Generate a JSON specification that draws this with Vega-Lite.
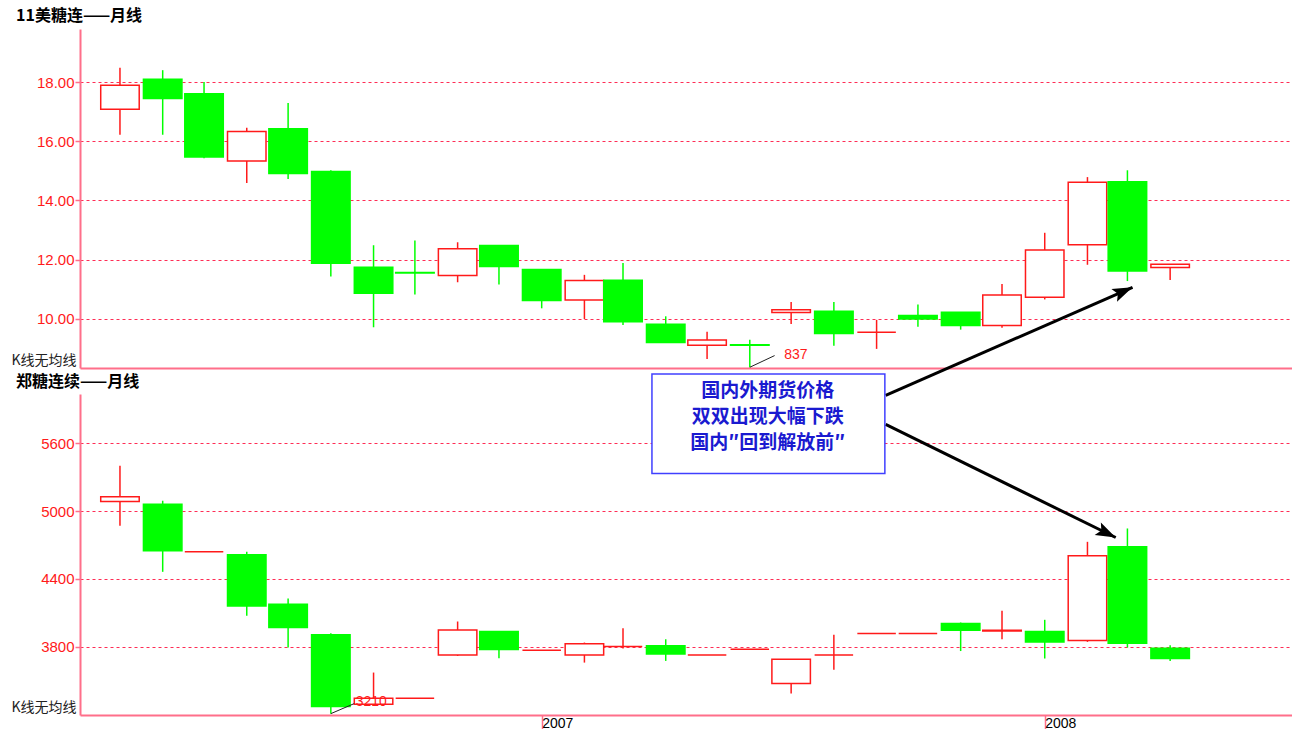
{
  "$schema": "https://vega.github.io/schema/vega-lite/v6.json",
  "background": "white",
  "padding": {"left": 10, "top": 8, "right": 0, "bottom": 0},
  "bounds": "flush",
  "spacing": 26,
  "config": {
    "view": {"stroke": null},
    "font": "Noto Sans CJK SC",
    "axis": {"domainColor": "#FF6F8A", "domainWidth": 2, "tickColor": "#FF6F8A", "tickWidth": 1.5, "gridColor": "#FF2D55", "gridDash": [3, 3], "gridWidth": 1, "gridOpacity": 1, "labelFont": "Liberation Sans", "labelFontSize": 15, "titleFont": "Noto Sans CJK SC", "titleFontWeight": "normal", "titleFontSize": 14, "titleColor": "#222222"},
    "axisY": {"gridColor": "#FF2D55", "gridOpacity": 1, "gridDash": [3, 3]},
    "title": {"font": "Noto Sans CJK SC", "fontSize": 16, "fontWeight": "bold", "color": "#000000", "anchor": "start", "frame": "group"}
  },
  "datasets": {
    "ice": [
      {"m": "2006-03-01", "o": 17.08, "h": 18.48, "l": 16.22, "c": 17.89},
      {"m": "2006-04-01", "o": 18.09, "h": 18.40, "l": 16.22, "c": 17.44},
      {"m": "2006-05-01", "o": 17.60, "h": 18.00, "l": 15.43, "c": 15.47},
      {"m": "2006-06-01", "o": 15.33, "h": 16.46, "l": 14.59, "c": 16.33},
      {"m": "2006-07-01", "o": 16.42, "h": 17.29, "l": 14.73, "c": 14.91},
      {"m": "2006-08-01", "o": 14.98, "h": 15.02, "l": 11.43, "c": 11.88},
      {"m": "2006-09-01", "o": 11.75, "h": 12.49, "l": 9.72, "c": 10.87},
      {"m": "2006-10-01", "o": 11.57, "h": 12.65, "l": 10.83, "c": 11.55},
      {"m": "2006-11-01", "o": 11.47, "h": 12.59, "l": 11.24, "c": 12.37},
      {"m": "2006-12-01", "o": 12.48, "h": 12.49, "l": 11.16, "c": 11.77},
      {"m": "2007-01-01", "o": 11.67, "h": 11.68, "l": 10.36, "c": 10.62},
      {"m": "2007-02-01", "o": 10.64, "h": 11.49, "l": 10.00, "c": 11.30},
      {"m": "2007-03-01", "o": 11.31, "h": 11.89, "l": 9.80, "c": 9.91},
      {"m": "2007-04-01", "o": 9.82, "h": 10.09, "l": 9.20, "c": 9.21},
      {"m": "2007-05-01", "o": 9.11, "h": 9.57, "l": 8.65, "c": 9.29},
      {"m": "2007-06-01", "o": 9.13, "h": 9.30, "l": 8.37, "c": 9.11},
      {"m": "2007-07-01", "o": 10.22, "h": 10.57, "l": 9.83, "c": 10.31},
      {"m": "2007-08-01", "o": 10.26, "h": 10.57, "l": 9.10, "c": 9.51},
      {"m": "2007-09-01", "o": 9.55, "h": 9.97, "l": 8.99, "c": 9.55},
      {"m": "2007-10-01", "o": 10.12, "h": 10.49, "l": 9.74, "c": 10.00},
      {"m": "2007-11-01", "o": 10.23, "h": 10.23, "l": 9.64, "c": 9.78},
      {"m": "2007-12-01", "o": 9.78, "h": 11.18, "l": 9.70, "c": 10.81},
      {"m": "2008-01-01", "o": 10.73, "h": 12.91, "l": 10.66, "c": 12.33},
      {"m": "2008-02-01", "o": 12.51, "h": 14.79, "l": 11.83, "c": 14.62},
      {"m": "2008-03-01", "o": 14.63, "h": 15.02, "l": 11.28, "c": 11.62},
      {"m": "2008-04-01", "o": 11.74, "h": 11.85, "l": 11.32, "c": 11.85}
    ],
    "zce": [
      {"m": "2006-03-01", "o": 5085, "h": 5400, "l": 4870, "c": 5126},
      {"m": "2006-04-01", "o": 5061, "h": 5091, "l": 4463, "c": 4649},
      {"m": "2006-05-01", "o": 4640, "h": 4640, "l": 4640, "c": 4640},
      {"m": "2006-06-01", "o": 4613, "h": 4640, "l": 4074, "c": 4162},
      {"m": "2006-07-01", "o": 4177, "h": 4227, "l": 3794, "c": 3971},
      {"m": "2006-08-01", "o": 3906, "h": 3920, "l": 3210, "c": 3272},
      {"m": "2006-09-01", "o": 3293, "h": 3573, "l": 3293, "c": 3346},
      {"m": "2006-10-01", "o": 3346, "h": 3346, "l": 3346, "c": 3346},
      {"m": "2006-11-01", "o": 3729, "h": 4024, "l": 3720, "c": 3950},
      {"m": "2006-12-01", "o": 3935, "h": 3935, "l": 3699, "c": 3776},
      {"m": "2007-01-01", "o": 3770, "h": 3770, "l": 3770, "c": 3770},
      {"m": "2007-02-01", "o": 3729, "h": 3838, "l": 3661, "c": 3827},
      {"m": "2007-03-01", "o": 3803, "h": 3964, "l": 3785, "c": 3803},
      {"m": "2007-04-01", "o": 3809, "h": 3867, "l": 3676, "c": 3738},
      {"m": "2007-05-01", "o": 3729, "h": 3729, "l": 3729, "c": 3729},
      {"m": "2007-06-01", "o": 3779, "h": 3779, "l": 3779, "c": 3779},
      {"m": "2007-07-01", "o": 3476, "h": 3690, "l": 3387, "c": 3690},
      {"m": "2007-08-01", "o": 3729, "h": 3906, "l": 3597, "c": 3729},
      {"m": "2007-09-01", "o": 3918, "h": 3918, "l": 3918, "c": 3918},
      {"m": "2007-10-01", "o": 3918, "h": 3918, "l": 3918, "c": 3918},
      {"m": "2007-11-01", "o": 4006, "h": 4015, "l": 3763, "c": 3947},
      {"m": "2007-12-01", "o": 3940, "h": 4118, "l": 3867, "c": 3947},
      {"m": "2008-01-01", "o": 3935, "h": 4039, "l": 3697, "c": 3844},
      {"m": "2008-02-01", "o": 3856, "h": 4728, "l": 3844, "c": 4605},
      {"m": "2008-03-01", "o": 4684, "h": 4846, "l": 3794, "c": 3832},
      {"m": "2008-04-01", "o": 3788, "h": 3814, "l": 3676, "c": 3697}
    ]
  },
  "vconcat": [
    {
      "width": 1212,
      "height": 339,
      "title": {"text": "11美糖连——月线", "dx": -64, "offset": 5},
      "layer": [
        {
          "data": {"name": "ice"},
          "mark": {"type": "rule", "strokeWidth": 1.5},
          "encoding": {
            "x": {"field": "m", "type": "temporal", "scale": {"type": "utc", "padding": 0, "domain": [{"year": 2006, "month": 1, "date": 31, "utc": true}, {"year": 2008, "month": 6, "date": 28, "hours": 10, "utc": true}]}, "axis": {"labels": false, "ticks": false, "grid": false, "title": null}},
            "y": {"field": "l", "type": "quantitative", "scale": {"domain": [8.345, 19.79], "nice": false, "zero": false, "padding": 0}, "axis": {"values": [10, 12, 14, 16, 18], "format": ".2f", "labelColor": "#FF1A1A", "labelPadding": 1, "tickSize": 5, "grid": true, "title": "K线无均线", "titleAngle": 0, "titleAlign": "right", "titleBaseline": "alphabetic", "titleX": -4, "titleY": 335}},
            "y2": {"field": "h"},
            "color": {"condition": {"test": "datum.c < datum.o", "value": "#00FF00"}, "value": "#FF1A1A"}
          }
        },
        {
          "data": {"name": "ice"},
          "mark": {"type": "bar", "size": 38.5, "strokeWidth": 1.5},
          "encoding": {
            "x": {"field": "m", "type": "temporal", "scale": {"type": "utc", "padding": 0, "domain": [{"year": 2006, "month": 1, "date": 31, "utc": true}, {"year": 2008, "month": 6, "date": 28, "hours": 10, "utc": true}]}, "axis": {"labels": false, "ticks": false, "grid": false, "title": null}},
            "y": {"field": "o", "type": "quantitative", "scale": {"domain": [8.345, 19.79], "nice": false, "zero": false, "padding": 0}, "axis": {"values": [10, 12, 14, 16, 18], "format": ".2f", "labelColor": "#FF1A1A", "labelPadding": 1, "tickSize": 5, "grid": true, "title": "K线无均线", "titleAngle": 0, "titleAlign": "right", "titleBaseline": "alphabetic", "titleX": -4, "titleY": 335}},
            "y2": {"field": "c"},
            "fill": {"condition": {"test": "datum.c < datum.o", "value": "#00FF00"}, "value": "#FFFFFF"},
            "stroke": {"condition": {"test": "datum.c < datum.o", "value": "#00FF00"}, "value": "#FF1A1A"}
          }
        },
        {
          "data": {"values": [{"fx": "2007-06-01", "fy": 8.37, "tx": "2007-06-19", "ty": 8.764}]},
          "mark": {"type": "rule", "strokeWidth": 1, "color": "#222222"},
          "encoding": {
            "x": {"field": "fx", "type": "temporal", "scale": {"type": "utc", "padding": 0, "domain": [{"year": 2006, "month": 1, "date": 31, "utc": true}, {"year": 2008, "month": 6, "date": 28, "hours": 10, "utc": true}]}, "axis": {"labels": false, "ticks": false, "grid": false, "title": null}},
            "x2": {"field": "tx"},
            "y": {"field": "fy", "type": "quantitative", "scale": {"domain": [8.345, 19.79], "nice": false, "zero": false, "padding": 0}, "axis": {"values": [10, 12, 14, 16, 18], "format": ".2f", "labelColor": "#FF1A1A", "labelPadding": 1, "tickSize": 5, "grid": true, "title": "K线无均线", "titleAngle": 0, "titleAlign": "right", "titleBaseline": "alphabetic", "titleX": -4, "titleY": 335}},
            "y2": {"field": "ty"}
          }
        },
        {
          "data": {"values": [{"d": "2007-06-26", "v": 8.77, "t": "837"}]},
          "mark": {"type": "text", "align": "left", "baseline": "middle", "font": "Liberation Sans", "fontSize": 14, "color": "#FF1A1A"},
          "encoding": {
            "x": {"field": "d", "type": "temporal", "scale": {"type": "utc", "padding": 0, "domain": [{"year": 2006, "month": 1, "date": 31, "utc": true}, {"year": 2008, "month": 6, "date": 28, "hours": 10, "utc": true}]}, "axis": {"labels": false, "ticks": false, "grid": false, "title": null}},
            "y": {"field": "v", "type": "quantitative", "scale": {"domain": [8.345, 19.79], "nice": false, "zero": false, "padding": 0}, "axis": {"values": [10, 12, 14, 16, 18], "format": ".2f", "labelColor": "#FF1A1A", "labelPadding": 1, "tickSize": 5, "grid": true, "title": "K线无均线", "titleAngle": 0, "titleAlign": "right", "titleBaseline": "alphabetic", "titleX": -4, "titleY": 335}},
            "text": {"field": "t"}
          }
        },
        {
          "data": {"values": [{"fx": "2007-09-07T14:00:00Z", "fy": 7.42, "tx": "2008-03-04T17:00:00Z", "ty": 11.07}]},
          "mark": {"type": "rule", "strokeWidth": 3, "color": "#000000"},
          "encoding": {
            "x": {"field": "fx", "type": "temporal", "scale": {"type": "utc", "padding": 0, "domain": [{"year": 2006, "month": 1, "date": 31, "utc": true}, {"year": 2008, "month": 6, "date": 28, "hours": 10, "utc": true}]}, "axis": {"labels": false, "ticks": false, "grid": false, "title": null}},
            "x2": {"field": "tx"},
            "y": {"field": "fy", "type": "quantitative", "scale": {"domain": [8.345, 19.79], "nice": false, "zero": false, "padding": 0}, "axis": {"values": [10, 12, 14, 16, 18], "format": ".2f", "labelColor": "#FF1A1A", "labelPadding": 1, "tickSize": 5, "grid": true, "title": "K线无均线", "titleAngle": 0, "titleAlign": "right", "titleBaseline": "alphabetic", "titleX": -4, "titleY": 335}},
            "y2": {"field": "ty"}
          }
        },
        {
          "data": {"values": [{"tx": "2008-03-04T17:00:00Z", "ty": 11.07}]},
          "mark": {"type": "point", "shape": "M0,0L0.7,2L0,1.6L-0.7,2Z", "size": 400, "filled": true, "opacity": 1, "color": "#000000", "angle": 66.4},
          "encoding": {
            "x": {"field": "tx", "type": "temporal", "scale": {"type": "utc", "padding": 0, "domain": [{"year": 2006, "month": 1, "date": 31, "utc": true}, {"year": 2008, "month": 6, "date": 28, "hours": 10, "utc": true}]}, "axis": {"labels": false, "ticks": false, "grid": false, "title": null}},
            "y": {"field": "ty", "type": "quantitative", "scale": {"domain": [8.345, 19.79], "nice": false, "zero": false, "padding": 0}, "axis": {"values": [10, 12, 14, 16, 18], "format": ".2f", "labelColor": "#FF1A1A", "labelPadding": 1, "tickSize": 5, "grid": true, "title": "K线无均线", "titleAngle": 0, "titleAlign": "right", "titleBaseline": "alphabetic", "titleX": -4, "titleY": 335}}
          }
        }
      ]
    },
    {
      "width": 1212,
      "height": 321,
      "title": {"text": "郑糖连续——月线", "dx": -64, "offset": 3, "dy": 20},
      "layer": [
        {
          "data": {"name": "zce"},
          "mark": {"type": "rule", "strokeWidth": 1.5},
          "encoding": {
            "x": {"field": "m", "type": "temporal", "scale": {"type": "utc", "padding": 0, "domain": [{"year": 2006, "month": 1, "date": 31, "utc": true}, {"year": 2008, "month": 6, "date": 28, "hours": 10, "utc": true}]}, "axis": {"values": [{"year": 2007, "month": 1, "date": 1, "utc": true}, {"year": 2008, "month": 1, "date": 1, "utc": true}], "format": "%Y", "labelAlign": "left", "labelBaseline": "top", "labelColor": "#000000", "labelFontSize": 14, "labelPadding": -15, "labelDx": 1, "tickSize": 16, "grid": false, "title": null, "labelFlush": false}},
            "y": {"field": "l", "type": "quantitative", "scale": {"domain": [3198, 6034], "nice": false, "zero": false, "padding": 0}, "axis": {"values": [3800, 4400, 5000, 5600], "format": "d", "labelColor": "#FF1A1A", "labelPadding": 1, "tickSize": 5, "grid": true, "title": "K线无均线", "titleAngle": 0, "titleAlign": "right", "titleBaseline": "alphabetic", "titleX": -4, "titleY": 317}},
            "y2": {"field": "h"},
            "color": {"condition": {"test": "datum.c < datum.o", "value": "#00FF00"}, "value": "#FF1A1A"}
          }
        },
        {
          "data": {"name": "zce"},
          "mark": {"type": "bar", "size": 38.5, "strokeWidth": 1.5},
          "encoding": {
            "x": {"field": "m", "type": "temporal", "scale": {"type": "utc", "padding": 0, "domain": [{"year": 2006, "month": 1, "date": 31, "utc": true}, {"year": 2008, "month": 6, "date": 28, "hours": 10, "utc": true}]}, "axis": {"values": [{"year": 2007, "month": 1, "date": 1, "utc": true}, {"year": 2008, "month": 1, "date": 1, "utc": true}], "format": "%Y", "labelAlign": "left", "labelBaseline": "top", "labelColor": "#000000", "labelFontSize": 14, "labelPadding": -15, "labelDx": 1, "tickSize": 16, "grid": false, "title": null, "labelFlush": false}},
            "y": {"field": "o", "type": "quantitative", "scale": {"domain": [3198, 6034], "nice": false, "zero": false, "padding": 0}, "axis": {"values": [3800, 4400, 5000, 5600], "format": "d", "labelColor": "#FF1A1A", "labelPadding": 1, "tickSize": 5, "grid": true, "title": "K线无均线", "titleAngle": 0, "titleAlign": "right", "titleBaseline": "alphabetic", "titleX": -4, "titleY": 317}},
            "y2": {"field": "c"},
            "fill": {"condition": {"test": "datum.c < datum.o", "value": "#00FF00"}, "value": "#FFFFFF"},
            "stroke": {"condition": {"test": "datum.c < datum.o", "value": "#00FF00"}, "value": "#FF1A1A"}
          }
        },
        {
          "data": {"values": [{"fx": "2006-08-01", "fy": 3210, "tx": "2006-08-18", "ty": 3299}]},
          "mark": {"type": "rule", "strokeWidth": 1, "color": "#222222"},
          "encoding": {
            "x": {"field": "fx", "type": "temporal", "scale": {"type": "utc", "padding": 0, "domain": [{"year": 2006, "month": 1, "date": 31, "utc": true}, {"year": 2008, "month": 6, "date": 28, "hours": 10, "utc": true}]}, "axis": {"values": [{"year": 2007, "month": 1, "date": 1, "utc": true}, {"year": 2008, "month": 1, "date": 1, "utc": true}], "format": "%Y", "labelAlign": "left", "labelBaseline": "top", "labelColor": "#000000", "labelFontSize": 14, "labelPadding": -15, "labelDx": 1, "tickSize": 16, "grid": false, "title": null, "labelFlush": false}},
            "x2": {"field": "tx"},
            "y": {"field": "fy", "type": "quantitative", "scale": {"domain": [3198, 6034], "nice": false, "zero": false, "padding": 0}, "axis": {"values": [3800, 4400, 5000, 5600], "format": "d", "labelColor": "#FF1A1A", "labelPadding": 1, "tickSize": 5, "grid": true, "title": "K线无均线", "titleAngle": 0, "titleAlign": "right", "titleBaseline": "alphabetic", "titleX": -4, "titleY": 317}},
            "y2": {"field": "ty"}
          }
        },
        {
          "data": {"values": [{"d": "2006-08-19", "v": 3316, "t": "3210"}]},
          "mark": {"type": "text", "align": "left", "baseline": "middle", "font": "Liberation Sans", "fontSize": 14, "color": "#FF1A1A"},
          "encoding": {
            "x": {"field": "d", "type": "temporal", "scale": {"type": "utc", "padding": 0, "domain": [{"year": 2006, "month": 1, "date": 31, "utc": true}, {"year": 2008, "month": 6, "date": 28, "hours": 10, "utc": true}]}, "axis": {"values": [{"year": 2007, "month": 1, "date": 1, "utc": true}, {"year": 2008, "month": 1, "date": 1, "utc": true}], "format": "%Y", "labelAlign": "left", "labelBaseline": "top", "labelColor": "#000000", "labelFontSize": 14, "labelPadding": -15, "labelDx": 1, "tickSize": 16, "grid": false, "title": null, "labelFlush": false}},
            "y": {"field": "v", "type": "quantitative", "scale": {"domain": [3198, 6034], "nice": false, "zero": false, "padding": 0}, "axis": {"values": [3800, 4400, 5000, 5600], "format": "d", "labelColor": "#FF1A1A", "labelPadding": 1, "tickSize": 5, "grid": true, "title": "K线无均线", "titleAngle": 0, "titleAlign": "right", "titleBaseline": "alphabetic", "titleX": -4, "titleY": 317}},
            "text": {"field": "t"}
          }
        },
        {
          "data": {"values": [{"fx": "2007-09-07T14:00:00Z", "fy": 5765, "tx": "2008-02-21T12:00:00Z", "ty": 4766}]},
          "mark": {"type": "rule", "strokeWidth": 3, "color": "#000000"},
          "encoding": {
            "x": {"field": "fx", "type": "temporal", "scale": {"type": "utc", "padding": 0, "domain": [{"year": 2006, "month": 1, "date": 31, "utc": true}, {"year": 2008, "month": 6, "date": 28, "hours": 10, "utc": true}]}, "axis": {"values": [{"year": 2007, "month": 1, "date": 1, "utc": true}, {"year": 2008, "month": 1, "date": 1, "utc": true}], "format": "%Y", "labelAlign": "left", "labelBaseline": "top", "labelColor": "#000000", "labelFontSize": 14, "labelPadding": -15, "labelDx": 1, "tickSize": 16, "grid": false, "title": null, "labelFlush": false}},
            "x2": {"field": "tx"},
            "y": {"field": "fy", "type": "quantitative", "scale": {"domain": [3198, 6034], "nice": false, "zero": false, "padding": 0}, "axis": {"values": [3800, 4400, 5000, 5600], "format": "d", "labelColor": "#FF1A1A", "labelPadding": 1, "tickSize": 5, "grid": true, "title": "K线无均线", "titleAngle": 0, "titleAlign": "right", "titleBaseline": "alphabetic", "titleX": -4, "titleY": 317}},
            "y2": {"field": "ty"}
          }
        },
        {
          "data": {"values": [{"tx": "2008-02-21T12:00:00Z", "ty": 4766}]},
          "mark": {"type": "point", "shape": "M0,0L0.7,2L0,1.6L-0.7,2Z", "size": 400, "filled": true, "opacity": 1, "color": "#000000", "angle": 116.2},
          "encoding": {
            "x": {"field": "tx", "type": "temporal", "scale": {"type": "utc", "padding": 0, "domain": [{"year": 2006, "month": 1, "date": 31, "utc": true}, {"year": 2008, "month": 6, "date": 28, "hours": 10, "utc": true}]}, "axis": {"values": [{"year": 2007, "month": 1, "date": 1, "utc": true}, {"year": 2008, "month": 1, "date": 1, "utc": true}], "format": "%Y", "labelAlign": "left", "labelBaseline": "top", "labelColor": "#000000", "labelFontSize": 14, "labelPadding": -15, "labelDx": 1, "tickSize": 16, "grid": false, "title": null, "labelFlush": false}},
            "y": {"field": "ty", "type": "quantitative", "scale": {"domain": [3198, 6034], "nice": false, "zero": false, "padding": 0}, "axis": {"values": [3800, 4400, 5000, 5600], "format": "d", "labelColor": "#FF1A1A", "labelPadding": 1, "tickSize": 5, "grid": true, "title": "K线无均线", "titleAngle": 0, "titleAlign": "right", "titleBaseline": "alphabetic", "titleX": -4, "titleY": 317}}
          }
        },
        {
          "data": {"values": [{"fx": "2007-03-22", "tx": "2007-09-07", "fy": 6210, "ty": 5332}]},
          "mark": {"type": "rect", "fill": "#FFFFFF", "stroke": "#4040FF", "strokeWidth": 1.5},
          "encoding": {
            "x": {"field": "fx", "type": "temporal", "scale": {"type": "utc", "padding": 0, "domain": [{"year": 2006, "month": 1, "date": 31, "utc": true}, {"year": 2008, "month": 6, "date": 28, "hours": 10, "utc": true}]}, "axis": {"values": [{"year": 2007, "month": 1, "date": 1, "utc": true}, {"year": 2008, "month": 1, "date": 1, "utc": true}], "format": "%Y", "labelAlign": "left", "labelBaseline": "top", "labelColor": "#000000", "labelFontSize": 14, "labelPadding": -15, "labelDx": 1, "tickSize": 16, "grid": false, "title": null, "labelFlush": false}},
            "x2": {"field": "tx"},
            "y": {"field": "fy", "type": "quantitative", "scale": {"domain": [3198, 6034], "nice": false, "zero": false, "padding": 0}, "axis": {"values": [3800, 4400, 5000, 5600], "format": "d", "labelColor": "#FF1A1A", "labelPadding": 1, "tickSize": 5, "grid": true, "title": "K线无均线", "titleAngle": 0, "titleAlign": "right", "titleBaseline": "alphabetic", "titleX": -4, "titleY": 317}},
            "y2": {"field": "ty"}
          }
        },
        {
          "data": {"values": [{"d": "2007-06-14", "v": 6057, "t": "国内外期货价格\n双双出现大幅下跌\n国内″回到解放前″"}]},
          "mark": {"type": "text", "align": "center", "baseline": "middle", "lineBreak": "\n", "lineHeight": 26, "font": "Noto Sans CJK SC", "fontWeight": "bold", "fontSize": 19, "color": "#1A1AD0"},
          "encoding": {
            "x": {"field": "d", "type": "temporal", "scale": {"type": "utc", "padding": 0, "domain": [{"year": 2006, "month": 1, "date": 31, "utc": true}, {"year": 2008, "month": 6, "date": 28, "hours": 10, "utc": true}]}, "axis": {"values": [{"year": 2007, "month": 1, "date": 1, "utc": true}, {"year": 2008, "month": 1, "date": 1, "utc": true}], "format": "%Y", "labelAlign": "left", "labelBaseline": "top", "labelColor": "#000000", "labelFontSize": 14, "labelPadding": -15, "labelDx": 1, "tickSize": 16, "grid": false, "title": null, "labelFlush": false}},
            "y": {"field": "v", "type": "quantitative", "scale": {"domain": [3198, 6034], "nice": false, "zero": false, "padding": 0}, "axis": {"values": [3800, 4400, 5000, 5600], "format": "d", "labelColor": "#FF1A1A", "labelPadding": 1, "tickSize": 5, "grid": true, "title": "K线无均线", "titleAngle": 0, "titleAlign": "right", "titleBaseline": "alphabetic", "titleX": -4, "titleY": 317}},
            "text": {"field": "t"}
          }
        }
      ]
    }
  ]
}
